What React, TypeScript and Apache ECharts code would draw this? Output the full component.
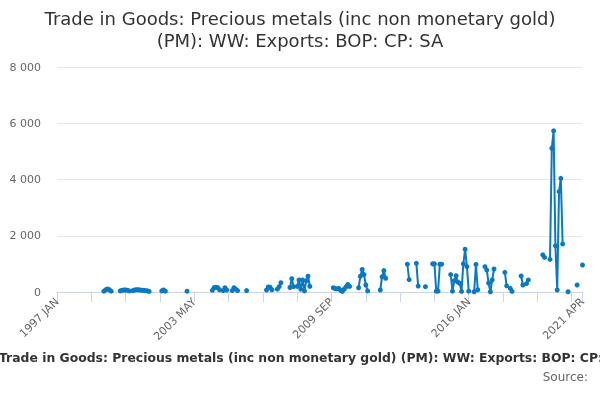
import React, { useEffect, useRef } from "react";
import * as echarts from "echarts";

const titleLines = [
  "Trade in Goods: Precious metals (inc non monetary gold)",
  "(PM): WW: Exports: BOP: CP: SA",
];
const captionText =
  "Trade in Goods: Precious metals (inc non monetary gold) (PM): WW: Exports: BOP: CP: SA";
const sourceText = "Source:";

const monthNames = ["JAN", "FEB", "MAR", "APR", "MAY", "JUN", "JUL", "AUG", "SEP", "OCT", "NOV", "DEC"];
const firstYear = 1997;
const lastYear = 2021;
const lastMonth = 4; // APR

const tickLabels = ["1997 JAN", "2003 MAY", "2009 SEP", "2016 JAN", "2021 APR"];
const yTicks = [0, 2000, 4000, 6000, 8000];

// runs of consecutive monthly observations (gaps are missing months)
const segmentStarts = [
  "1999 MAR", "1999 DEC", "2000 JUL", "2001 NOV", "2003 JAN", "2004 MAR", "2004 SEP",
  "2005 FEB", "2005 OCT", "2006 SEP", "2007 MAR", "2007 OCT", "2008 FEB", "2009 OCT",
  "2010 DEC", "2011 DEC", "2013 MAR", "2013 AUG", "2014 JAN", "2014 MAY", "2015 MAR",
  "2016 APR", "2016 OCT", "2017 SEP", "2017 DEC", "2018 JUN", "2018 SEP", "2019 JUN",
  "2019 OCT", "2020 AUG", "2021 JAN", "2021 APR",
];
const segmentValues: number[][] = [
  [30, 80, 110, 80, 30],
  [40, 60, 70, 70, 60, 40],
  [50, 70, 80, 80, 70, 60, 60, 50, 40, 20],
  [40, 70, 30],
  [30],
  [60, 150, 170, 150, 80],
  [50, 150, 70],
  [50, 150, 100, 50],
  [50],
  [70, 180, 170, 80],
  [100, 190, 330],
  [160, 470, 190],
  [200, 430, 100, 430, 40, 400, 560, 200],
  [150, 120, 110, 130, 60, 20, 100, 180, 270, 200],
  [150, 560, 800, 620, 250, 40],
  [70, 540, 760, 490],
  [990, 440],
  [1020, 210],
  [190],
  [1000, 1000, 30, 30, 990, 990],
  [620, 30, 400, 580, 350, 310, 20, 1000, 1520, 900, 30],
  [10, 980, 80],
  [900, 780, 320, 10, 430, 820],
  [700, 220],
  [130, 20],
  [570, 250],
  [300, 430],
  [1320, 1230],
  [1160, 5110, 5730, 1640, 70, 3570, 4040, 1710],
  [10],
  [250],
  [960],
];

const lineColor = "#0b78c2";

function buildCategories(): string[] {
  const out: string[] = [];
  for (let y = firstYear; y <= lastYear; y++) {
    for (let m = 0; m < 12; m++) {
      if (y === lastYear && m >= lastMonth) break;
      out.push(`${y} ${monthNames[m]}`);
    }
  }
  return out;
}

function buildSeries(categories: string[]): (number | null)[] {
  const data: (number | null)[] = categories.map(() => null);
  segmentStarts.forEach((start, s) => {
    const idx = categories.indexOf(start);
    segmentValues[s].forEach((v, k) => {
      data[idx + k] = v;
    });
  });
  return data;
}

function fmt(v: number): string {
  return String(v).replace(/\B(?=(\d{3})+(?!\d))/g, " ");
}

export default function App() {
  const ref = useRef<HTMLDivElement>(null);

  useEffect(() => {
    if (!ref.current) return;
    const chart = echarts.init(ref.current, undefined, { renderer: "svg" });
    const categories = buildCategories();
    const data = buildSeries(categories);
    const lastIdx = categories.length - 1;

    chart.setOption({
      animation: false,
      textStyle: { fontFamily: "DejaVu Sans" },
      title: {
        text: titleLines.join("\n"),
        left: "center",
        top: 2,
        textStyle: {
          fontSize: 18,
          fontWeight: "normal",
          color: "#333333",
          lineHeight: 22,
          fontFamily: "DejaVu Sans",
        },
      },
      grid: { left: 57, right: 17.5, top: 67, bottom: 108, containLabel: false },
      xAxis: {
        type: "category",
        data: categories,
        boundaryGap: false,
        axisLine: { show: true, lineStyle: { color: "#ccd6eb", width: 1 } },
        axisTick: {
          show: true,
          length: 10,
          interval: (i: number) => i % 19 === 0 || i === lastIdx,
          lineStyle: { color: "#ccd6eb" },
        },
        axisLabel: {
          interval: (_i: number, v: string) => tickLabels.includes(v),
          rotate: 45,
          color: "#666666",
          fontSize: 11,
          margin: 8,
          fontFamily: "DejaVu Sans",
        },
        splitLine: { show: false },
      },
      yAxis: {
        type: "value",
        min: yTicks[0],
        max: yTicks[yTicks.length - 1],
        interval: yTicks[1] - yTicks[0],
        axisLine: { show: false },
        axisTick: { show: false },
        axisLabel: {
          color: "#666666",
          fontSize: 11,
          margin: 16,
          fontFamily: "DejaVu Sans",
          formatter: (v: number) => fmt(v),
        },
        splitLine: { lineStyle: { color: "#e6e6e6", width: 1 } },
      },
      series: [
        {
          type: "line",
          data,
          connectNulls: false,
          showAllSymbol: true,
          symbol: "circle",
          symbolSize: 5,
          itemStyle: { color: lineColor },
          lineStyle: { color: lineColor, width: 2 },
        },
      ],
      graphic: [
        {
          type: "text",
          x: -1,
          y: 357,
          style: {
            text: captionText,
            align: "left",
            verticalAlign: "middle",
            font: 'bold 12.4px "DejaVu Sans"',
            fill: "#333333",
          },
        },
        {
          type: "text",
          x: 588,
          y: 377,
          style: {
            text: sourceText,
            align: "right",
            verticalAlign: "middle",
            font: '12px "DejaVu Sans"',
            fill: "#666666",
          },
        },
      ],
    });
    return () => chart.dispose();
  }, []);

  return (
    <div
      ref={ref}
      style={{ position: "fixed", left: 0, top: 0, width: 600, height: 400 }}
    />
  );
}
